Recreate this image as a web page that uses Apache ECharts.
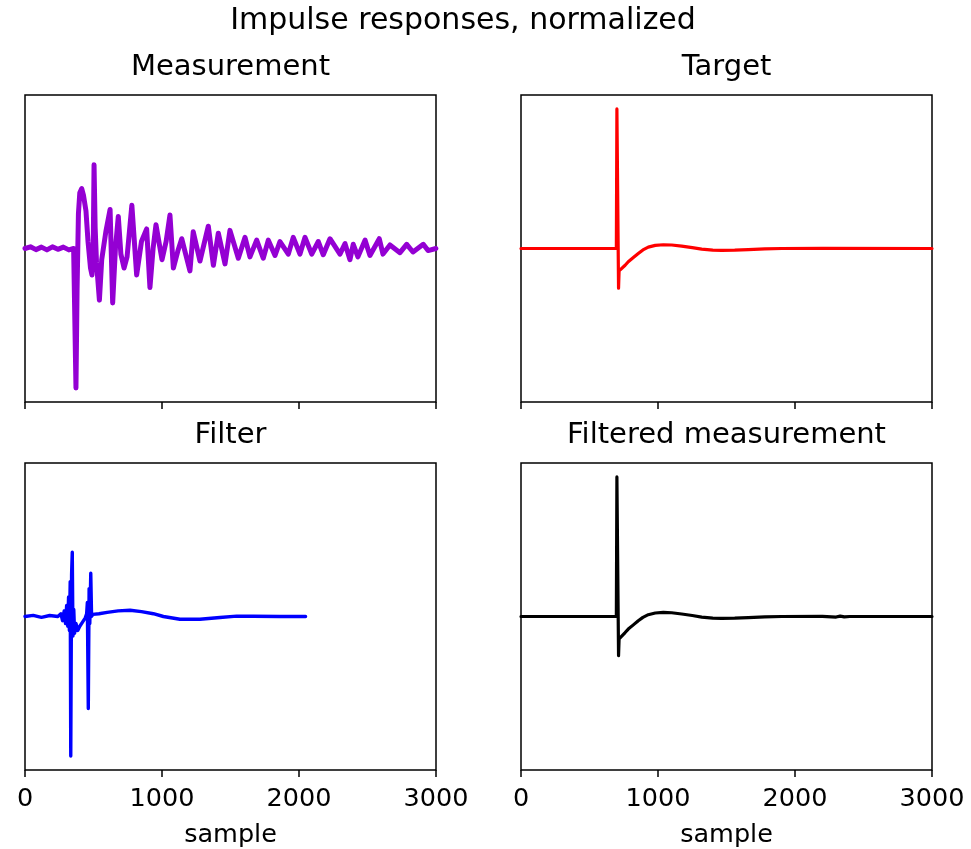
<!DOCTYPE html>
<html>
<head>
<meta charset="utf-8">
<script src="https://cdn.jsdelivr.net/npm/echarts@6/dist/echarts.min.js"></script>
<style>html,body{margin:0;padding:0;background:#fff}#c{width:971px;height:849px}</style>
</head>
<body>
<div id="c"></div>
<script>
// ---- data (sample index, normalized amplitude) ----
const measX = [0,40,80,120,160,200,240,280,320,355,366,372,380,390,400,414,427,445,460,478,489,498,504,512,522,543,560,590,621,640,660,681,700,723,745,780,815,850,888,912,935,956,1000,1030,1058,1083,1115,1144,1175,1204,1228,1277,1338,1375,1411,1460,1496,1557,1606,1642,1691,1739,1776,1825,1861,1922,1958,2007,2044,2093,2141,2177,2226,2299,2336,2372,2396,2430,2482,2518,2586,2613,2664,2737,2786,2832,2907,2942,2999];
const measY = [0,0.012,-0.008,0.01,-0.01,0.012,-0.006,0.01,-0.01,0,0,-1.0,-0.3,0.25,0.4,0.43,0.38,0.27,0.05,-0.14,-0.19,0,0.6,0.15,-0.1,-0.37,-0.08,0.12,0.28,-0.39,0,0.23,-0.04,-0.14,-0.06,0.31,-0.19,0.05,0.14,-0.28,0,0.17,-0.08,0.05,0.24,-0.14,-0.02,0.07,-0.05,-0.16,0.12,-0.09,0.16,-0.12,0.11,-0.11,0.13,-0.07,0.08,-0.06,0.06,-0.07,0.06,-0.05,0.05,-0.04,0.08,-0.04,0.08,-0.04,0.05,-0.045,0.07,-0.04,0.035,-0.08,0.03,-0.06,0.06,-0.05,0.07,-0.04,0.025,-0.03,0.03,-0.025,0.03,-0.015,0];

const targX = [0,696,700,712,716,730,760,783,820,856,890,929,980,1039,1100,1173,1250,1319,1400,1465,1560,1659,1780,1903,2200,3000];
const targY = [0,0,1.0,-0.285,-0.16,-0.15,-0.12,-0.095,-0.065,-0.036,-0.01,0.01,0.022,0.027,0.025,0.017,0.006,-0.004,-0.011,-0.013,-0.012,-0.008,-0.003,0,0.001,0];

const filtX = [0,60,120,180,240,262,274,286,296,304,312,318,324,330,334,340,345,350,356,362,372,385,400,420,440,450,455,462,468,473,480,486,495,540,600,680,767,850,937,1010,1131,1277,1423,1545,1666,1861,2048];
const filtY = [0,0.008,-0.006,0.007,0,0.02,-0.03,0.04,-0.05,0.08,-0.07,0.14,-0.1,0.25,-1.0,0.3,0.46,-0.14,0.05,-0.12,-0.05,-0.1,-0.07,-0.04,-0.01,0.02,0.1,-0.66,0.2,-0.05,0.31,0.0,0.015,0.02,0.03,0.04,0.045,0.035,0.02,0,-0.02,-0.02,-0.007,0.003,0.002,0,0];

const fmX = [0,696,700,712,716,730,760,783,820,856,890,929,980,1039,1100,1173,1250,1319,1400,1465,1560,1659,1780,1903,2200,2300,2330,2360,2400,3000];
const fmY = [0,0,1.0,-0.28,-0.16,-0.15,-0.115,-0.09,-0.06,-0.03,-0.006,0.013,0.025,0.03,0.027,0.018,0.007,-0.004,-0.011,-0.013,-0.012,-0.008,-0.003,0,0.001,-0.004,0.003,-0.003,0,0];

const xTicks = [0,1000,2000,3000];
const titles = ['Measurement','Target','Filter','Filtered measurement'];
const suptitle = 'Impulse responses, normalized';
const xLabel = 'sample';

// ---- build ----
const pair = (xs, ys) => xs.map((x, i) => [x, ys[i]]);
const FONT = 'DejaVu Sans';
const boxes = [
  {left:25, top:95}, {left:521, top:95},
  {left:25, top:463}, {left:521, top:463}
];
const W = 411, H = 307;
const grids = boxes.map(b => ({left:b.left, top:b.top, width:W, height:H, show:true, borderColor:'#000', borderWidth:1.5, backgroundColor:'transparent'}));
const xAxes = boxes.map((b, i) => ({
  type:'value', gridIndex:i, min:0, max:3000, interval:1000, position:'bottom',
  axisLine:{show:false, onZero:false}, splitLine:{show:false},
  axisTick:{show:true, length:7, lineStyle:{color:'#000', width:1.5}},
  axisLabel:{show:i >= 2, color:'#000', fontFamily:FONT, fontSize:25.5, margin:16,
    formatter: v => xTicks.includes(v) ? String(v) : ''},
  name: i >= 2 ? xLabel : '', nameLocation:'middle', nameGap:52,
  nameTextStyle:{color:'#000', fontFamily:FONT, fontSize:25.5}
}));
const yAxes = boxes.map((b, i) => ({type:'value', gridIndex:i, min:-1.1, max:1.1, show:false}));
const colors = ['#9400D3','#FF0000','#0000FF','#000000'];
const datas = [pair(measX, measY), pair(targX, targY), pair(filtX, filtY), pair(fmX, fmY)];
const widths = [5, 3.2, 3.4, 3.2];
const series = datas.map((d, i) => ({
  type:'line', xAxisIndex:i, yAxisIndex:i, data:d, showSymbol:false, symbol:'none',
  lineStyle:{color:colors[i], width:widths[i], join:'round', cap:'round'}, animation:false
}));
const tstyle = {color:'#000', fontFamily:FONT, fontSize:29, fontWeight:'normal'};
const titleComps = [
  {text:suptitle, left:463, top:6, textAlign:'center', padding:0, textStyle:Object.assign({}, tstyle, {fontSize:30})}
].concat(boxes.map((b, i) => ({
  text:titles[i], left:b.left + W/2, top:b.top - 42, textAlign:'center', padding:0, textStyle:tstyle
})));

const chart = echarts.init(document.getElementById('c'), null, {renderer:'canvas'});
chart.setOption({
  animation:false, backgroundColor:'#fff',
  title:titleComps, grid:grids, xAxis:xAxes, yAxis:yAxes, series:series
});
</script>
</body>
</html>
